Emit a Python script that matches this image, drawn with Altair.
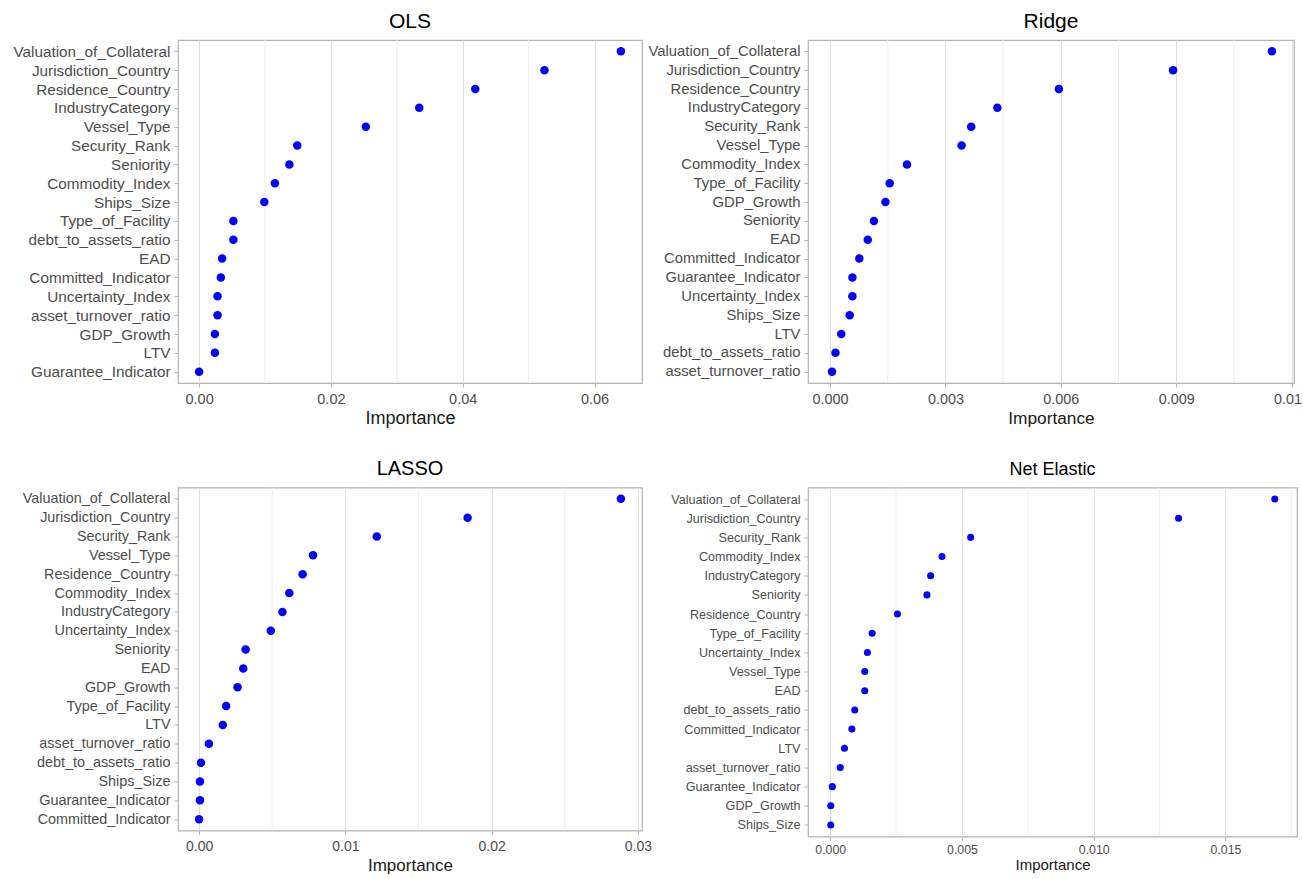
import altair as alt
import pandas as pd

# ---- feature importance by model (top to bottom as plotted) ----
ols_features = ["Valuation_of_Collateral", "Jurisdiction_Country", "Residence_Country",
                "IndustryCategory", "Vessel_Type", "Security_Rank", "Seniority",
                "Commodity_Index", "Ships_Size", "Type_of_Facility", "debt_to_assets_ratio",
                "EAD", "Committed_Indicator", "Uncertainty_Index", "asset_turnover_ratio",
                "GDP_Growth", "LTV", "Guarantee_Indicator"]
ols_importance = [0.0640, 0.0524, 0.0419, 0.0334, 0.0253, 0.0149, 0.0137, 0.0115, 0.0099,
                  0.0052, 0.0052, 0.0035, 0.0033, 0.0028, 0.0028, 0.0024, 0.0024, 0.0000]

ridge_features = ["Valuation_of_Collateral", "Jurisdiction_Country", "Residence_Country",
                  "IndustryCategory", "Security_Rank", "Vessel_Type", "Commodity_Index",
                  "Type_of_Facility", "GDP_Growth", "Seniority", "EAD", "Committed_Indicator",
                  "Guarantee_Indicator", "Uncertainty_Index", "Ships_Size", "LTV",
                  "debt_to_assets_ratio", "asset_turnover_ratio"]
ridge_importance = [0.01149, 0.00892, 0.00595, 0.00435, 0.00367, 0.00342, 0.00200, 0.00155,
                    0.00144, 0.00114, 0.00098, 0.00076, 0.00058, 0.00058, 0.00051, 0.00029,
                    0.00014, 0.00005]

lasso_features = ["Valuation_of_Collateral", "Jurisdiction_Country", "Security_Rank",
                  "Vessel_Type", "Residence_Country", "Commodity_Index", "IndustryCategory",
                  "Uncertainty_Index", "Seniority", "EAD", "GDP_Growth", "Type_of_Facility",
                  "LTV", "asset_turnover_ratio", "debt_to_assets_ratio", "Ships_Size",
                  "Guarantee_Indicator", "Committed_Indicator"]
lasso_importance = [0.02884, 0.01836, 0.01215, 0.00779, 0.00708, 0.00617, 0.00570, 0.00490,
                    0.00318, 0.00302, 0.00263, 0.00185, 0.00162, 0.00067, 0.00013, 0.00006,
                    0.00006, 0.00000]

net_features = ["Valuation_of_Collateral", "Jurisdiction_Country", "Security_Rank",
                "Commodity_Index", "IndustryCategory", "Seniority", "Residence_Country",
                "Type_of_Facility", "Uncertainty_Index", "Vessel_Type", "EAD",
                "debt_to_assets_ratio", "Committed_Indicator", "LTV", "asset_turnover_ratio",
                "Guarantee_Indicator", "GDP_Growth", "Ships_Size"]
net_importance = [0.01687, 0.01322, 0.00533, 0.00424, 0.00381, 0.00367, 0.00255, 0.00159,
                  0.00141, 0.00131, 0.00131, 0.00093, 0.00082, 0.00054, 0.00038, 0.00008,
                  0.00002, 0.00002]

# axis ticks per panel
ols_ticks = [0.00, 0.02, 0.04, 0.06]
ridge_ticks = [0.000, 0.003, 0.006, 0.009, 0.012]
lasso_ticks = [0.00, 0.01, 0.02, 0.03]
net_ticks = [0.000, 0.005, 0.010, 0.015]

FONT = "Liberation Sans"
BLUE = "#0000FF"


def minor_lines(ticks, upper):
    step = ticks[1] - ticks[0]
    out = [t + step / 2 for t in ticks]
    return [m for m in out if m < upper]


def panel(title, features, values, ticks, fmt, width, height,
          ylab=15.3, xlab=14.5, xtitle=18, tsize=21, dot=72,
          lpad=5, tpad=4):
    vmax = max(values)
    pad = vmax * 0.05
    domain = [-pad, vmax + pad]
    xscale = alt.Scale(domain=domain, nice=False, zero=False)
    xaxis = alt.Axis(values=ticks, format=fmt, title="Importance",
                     labelFontSize=xlab, titleFontSize=xtitle,
                     labelPadding=lpad, titlePadding=tpad)
    df = pd.DataFrame({"feature": features, "importance": values})
    mdf = pd.DataFrame({"importance": minor_lines(ticks, vmax + pad)})

    minor = alt.Chart(mdf).mark_rule(color="#EDEDED", strokeWidth=1).encode(
        x=alt.X("importance:Q", scale=xscale, axis=xaxis)
    )
    pts = alt.Chart(df).mark_circle(size=dot, color=BLUE, opacity=1).encode(
        x=alt.X("importance:Q", scale=xscale, axis=xaxis),
        y=alt.Y("feature:N", sort=features,
                scale=alt.Scale(type="point", padding=0.6),
                axis=alt.Axis(title=None, labelFontSize=ylab, labelPadding=4)),
    )
    return alt.layer(minor, pts).properties(
        width=width, height=height,
        title=alt.TitleParams(title, fontSize=tsize, font=FONT, fontWeight="normal",
                              color="#000000", anchor="middle", offset=8),
    )


ols = panel("OLS", ols_features, ols_importance, ols_ticks, ".2f", 464, 343)
ridge = panel("Ridge", ridge_features, ridge_importance, ridge_ticks, ".3f", 486, 343,
              ylab=14.8, xlab=14.4, xtitle=17.3)
lasso = panel("LASSO", lasso_features, lasso_importance, lasso_ticks, ".2f", 464, 343,
              ylab=14.4, xlab=14, xtitle=17, tsize=20, lpad=5, tpad=4)
net = panel("Net Elastic", net_features, net_importance, net_ticks, ".3f", 489, 349,
            ylab=12.6, xlab=12.3, xtitle=15, tsize=18, dot=50, lpad=2.5, tpad=2)

chart = alt.concat(
    ols, ridge, lasso, net, columns=2,
    spacing={"column": 141, "row": 98.5},
    bounds="flush", align="all",
).properties(
    padding={"left": 12, "top": 9, "right": -8, "bottom": 0},
    background="white",
).configure_view(
    stroke="#B3B3B3", strokeWidth=1.2,
).configure_axis(
    labelFont=FONT, titleFont=FONT,
    labelColor="#4D4D4D", titleColor="#1A1A1A", titleFontWeight="normal",
    domain=False, gridColor="#DEDEDE", gridWidth=1.1,
    tickColor="#B3B3B3", tickSize=4, tickWidth=1,
)

chart.save("out.html", embed_options={"renderer": "svg", "actions": False})
